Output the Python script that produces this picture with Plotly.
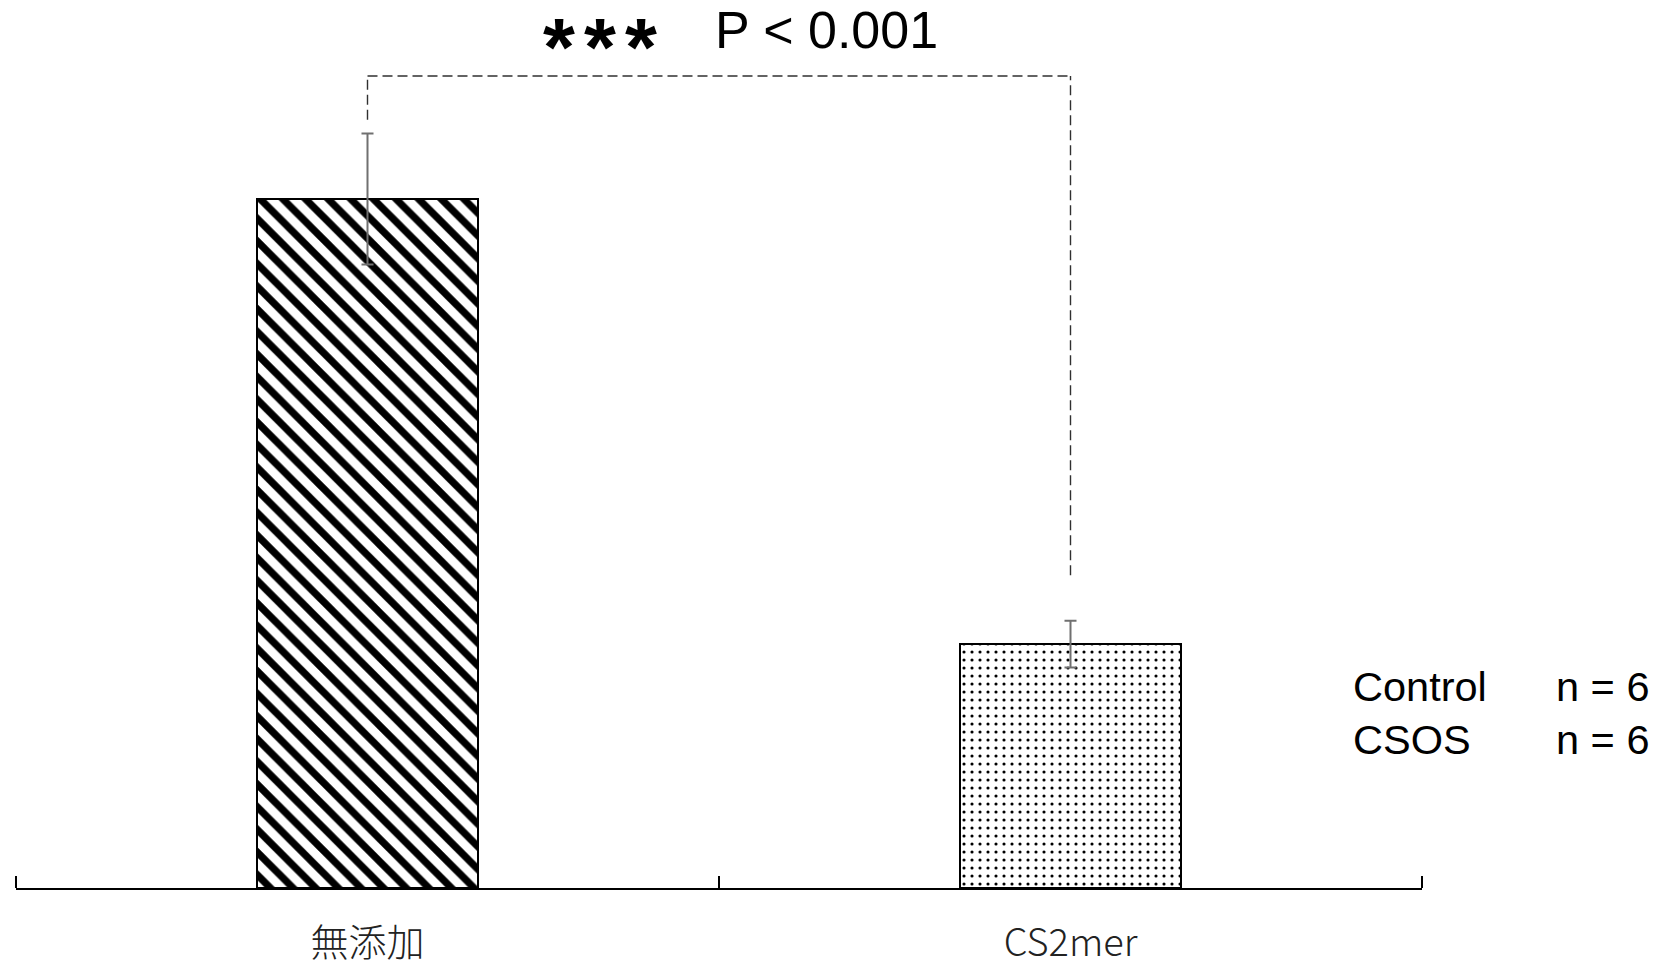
import plotly.graph_objects as go

# ---- data ----
categories = ["無添加", "CS2mer"]
values = [100.0, 35.4]
errors = [9.5, 3.4]
group_labels = ["Control", "CSOS"]
group_n = ["n = 6", "n = 6"]
sig_star = "*"
sig_text = "P < 0.001"
boundary_ticks = [-0.5, 0.5, 1.5]

fig = go.Figure()

patterns = ["\\", "."]
sizes = [16, 8]
solid = [0.45, 0.12]
for i, c in enumerate(categories):
    fig.add_trace(go.Bar(
        x=[c], y=[values[i]],
        width=0.314,
        marker=dict(
            color="white",
            line=dict(color="black", width=2),
            pattern=dict(shape=patterns[i], size=sizes[i], solidity=solid[i],
                         fgcolor="black", bgcolor="white", fillmode="replace"),
        ),
        error_y=dict(type="data", array=[errors[i]], visible=True,
                     color="#707070", thickness=2, width=6),
        showlegend=False,
    ))

# empty helper trace so the overlaid tick axis is drawn
fig.add_trace(go.Scatter(x=[], y=[], xaxis="x2", showlegend=False, hoverinfo="skip"))

# significance bracket (data coordinates)
top = 117.85
left_bot = values[0] + errors[0] + 2.0
right_bot = values[1] + errors[1] + 6.6
dash = "10px,5px"
lc = "#303030"
for (xa, xb, ya, yb) in [(categories[0], categories[0], left_bot, top),
                         (categories[0], categories[1], top, top),
                         (categories[1], categories[1], right_bot, top)]:
    fig.add_shape(type="line", xref="x", yref="y", x0=xa, x1=xb, y0=ya, y1=yb,
                  line=dict(color=lc, width=1.4, dash=dash))

H = 888.0
W = 1406.0
def px_x(px):
    return (px - 16) / W
def px_y(py):
    return 1 - py / H

for cx in [558.5, 599.5, 640.5]:
    fig.add_annotation(text=sig_star, xref="paper", yref="paper", x=px_x(cx), y=1,
                       xanchor="center", yanchor="top", yshift=1, showarrow=False,
                       font=dict(family="Liberation Sans", size=82, color="black", weight="bold"))
fig.add_annotation(text=sig_text, xref="paper", yref="paper", x=px_x(713), y=px_y(30),
                   xanchor="left", yanchor="middle", showarrow=False,
                   font=dict(family="Liberation Sans", size=52, color="black"))

for i in range(len(group_labels)):
    yc = 686 + 53 * i
    fig.add_annotation(text=group_labels[i], xref="paper", yref="paper", x=px_x(1351), y=px_y(yc),
                       xanchor="left", yanchor="middle", showarrow=False,
                       font=dict(family="Liberation Sans", size=41.5, color="black"))
    fig.add_annotation(text=group_n[i], xref="paper", yref="paper", x=px_x(1554), y=px_y(yc),
                       xanchor="left", yanchor="middle", showarrow=False,
                       font=dict(family="Liberation Sans", size=41.5, color="black"))

fig.update_layout(
    width=1671, height=969,
    margin=dict(l=16, r=249, t=0, b=81),
    paper_bgcolor="white", plot_bgcolor="white",
    bargap=0,
    xaxis=dict(
        type="category", range=[-0.5, 1.5],
        showline=True, linecolor="black", linewidth=1.5,
        ticks="", showgrid=False, zeroline=False,
        tickfont=dict(family="Noto Sans CJK JP", size=38, color="#222222", weight=300),
        ticklabelstandoff=21,
    ),
    xaxis2=dict(
        type="linear", range=[-0.5, 1.5], overlaying="x", side="top",
        anchor="free", position=0,
        tickmode="array", tickvals=boundary_ticks, showticklabels=False,
        ticks="outside", ticklen=12, tickwidth=1.5, tickcolor="black",
        showline=False, showgrid=False, zeroline=False,
    ),
    yaxis=dict(range=[0, 128.88], visible=False, showgrid=False, zeroline=False),
)

fig.write_html("out.html")
